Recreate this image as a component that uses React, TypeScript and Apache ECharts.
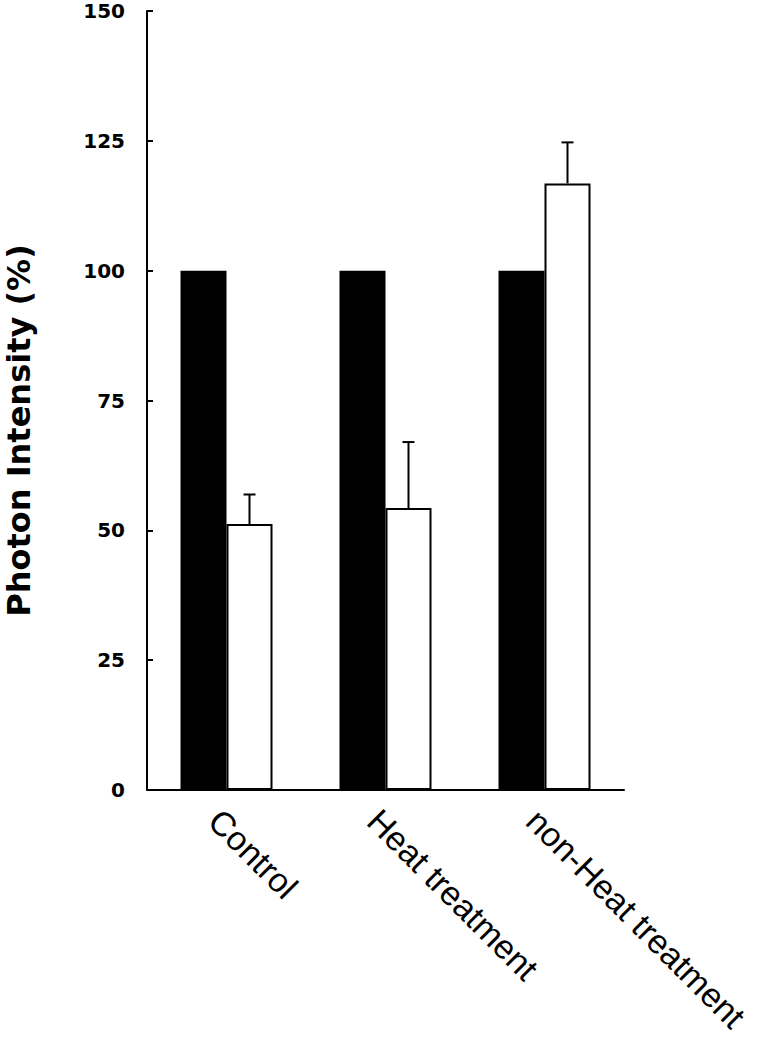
import React, { useEffect, useRef } from "react";
import * as echarts from "echarts";

const categories = ["Control", "Heat treatment", "non-Heat treatment"];
const beforeValues = [100, 100, 100];
const afterValues = [51.2, 54.3, 116.8];
const afterErrorTop = [56.9, 67.0, 124.7];
const yTicks = [0, 25, 50, 75, 100, 125, 150];

export default function App() {
  const ref = useRef<HTMLDivElement>(null);
  useEffect(() => {
    document.body.style.margin = "0";
    const chart = echarts.init(ref.current!, null, { renderer: "svg" });
    const errData = categories.map((c, i) => [i, afterValues[i], afterErrorTop[i]]);
    chart.setOption({
      animation: false,
      backgroundColor: "#ffffff",
      grid: {
        left: 147,
        right: 136,
        top: 11,
        bottom: 251,
        containLabel: false,
        outerBoundsMode: "none",
      },
      xAxis: {
        type: "category",
        data: categories,
        axisLine: { lineStyle: { color: "#000", width: 2 } },
        axisTick: { inside: true, length: 4, lineStyle: { color: "#000", width: 2 } },
        axisLabel: {
          rotate: -45,
          margin: 13,
          align: "left",
          verticalAlign: "top",
          color: "#000",
          fontSize: 34,
          fontFamily: "Liberation Sans, Arial, sans-serif",
          interval: 0,
        },
      },
      yAxis: {
        type: "value",
        min: 0,
        max: 150,
        interval: 25,
        name: "Photon Intensity (%)",
        nameLocation: "middle",
        nameGap: 112,
        nameTextStyle: {
          color: "#000",
          fontSize: 32,
          fontWeight: "bold",
          fontFamily: "DejaVu Sans, sans-serif",
          padding: [0, 60, 0, 0],
        },
        axisLine: { show: true, lineStyle: { color: "#000", width: 2 } },
        axisTick: { show: true, inside: true, length: 6, lineStyle: { color: "#000", width: 2 } },
        splitLine: { show: false },
        axisLabel: {
          margin: 22,
          color: "#000",
          fontSize: 20,
          fontWeight: "bold",
          fontFamily: "DejaVu Sans, sans-serif",
          formatter: (v: number) => (yTicks.includes(v) ? String(v) : ""),
        },
      },
      series: [
        {
          type: "bar",
          data: beforeValues,
          barWidth: 46,
          barGap: "0%",
          itemStyle: { color: "#000", borderColor: "#000", borderWidth: 2 },
        },
        {
          type: "bar",
          data: afterValues,
          barWidth: 46,
          barGap: "0%",
          itemStyle: { color: "#fff", borderColor: "#000", borderWidth: 2 },
        },
        {
          type: "custom",
          data: errData,
          z: 10,
          renderItem: (params: any, api: any) => {
            const idx = api.value(0);
            const base = api.coord([idx, api.value(1)]);
            const top = api.coord([idx, api.value(2)]);
            const x = base[0] + 23;
            const style = { stroke: "#000", lineWidth: 2 };
            return {
              type: "group",
              children: [
                { type: "line", shape: { x1: x, y1: base[1], x2: x, y2: top[1] }, style },
                { type: "line", shape: { x1: x - 6, y1: top[1], x2: x + 6, y2: top[1] }, style },
              ],
            };
          },
        },
      ],
    });
    return () => chart.dispose();
  }, []);
  return <div ref={ref} style={{ width: 760, height: 1041 }} />;
}
